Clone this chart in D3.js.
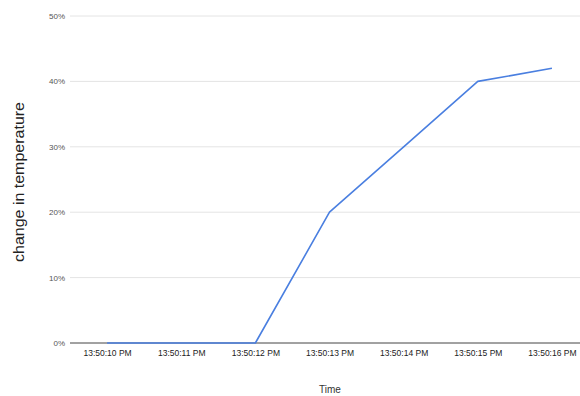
<!DOCTYPE html>
<html>
<head>
<meta charset="utf-8">
<script src="https://cdn.jsdelivr.net/npm/d3@7"></script>
<style>
  html, body { margin: 0; padding: 0; background: #fff; }
  svg { display: block; overflow: hidden; }
</style>
</head>
<body>
<svg id="chart" width="580" height="396"></svg>
<script>
// Time stamps of each reading and the measured change in temperature (fraction)
const times = ["13:50:10 PM", "13:50:11 PM", "13:50:12 PM", "13:50:13 PM", "13:50:14 PM", "13:50:15 PM", "13:50:16 PM"];
const changes = [0, 0, 0, 0.20, 0.30, 0.40, 0.42];
const yTicks = [0, 0.1, 0.2, 0.3, 0.4, 0.5];

const svg = d3.select("#chart");
const W = 580, H = 396;

const x = d3.scalePoint().domain(times).range([70, 589]).padding(0.5);
const y = d3.scaleLinear().domain([0, 0.5]).range([343, 16]);

const font = "'Liberation Sans', Arial, sans-serif";

// horizontal gridlines
svg.append("g")
  .selectAll("line")
  .data(yTicks.filter(d => d > 0))
  .join("line")
  .attr("x1", 70).attr("x2", W)
  .attr("y1", d => y(d)).attr("y2", d => y(d))
  .attr("stroke", "#e4e4e4").attr("stroke-width", 1);

// y axis labels
const yAxis = d3.axisLeft(y).tickValues(yTicks).tickFormat(d3.format(".0%")).tickSize(0).tickPadding(5);
svg.append("g")
  .attr("transform", "translate(70,0)")
  .call(yAxis)
  .call(g => g.select(".domain").remove())
  .call(g => g.selectAll("text")
    .attr("font-family", font).attr("font-size", 8).attr("fill", "#555"));

// baseline
svg.append("line")
  .attr("x1", 70).attr("x2", W)
  .attr("y1", y(0)).attr("y2", y(0))
  .attr("stroke", "#444").attr("stroke-width", 1);

// x axis labels
const xAxis = d3.axisBottom(x).tickSize(0).tickPadding(7);
svg.append("g")
  .attr("transform", `translate(0,${y(0)})`)
  .call(xAxis)
  .call(g => g.select(".domain").remove())
  .call(g => g.selectAll("text")
    .attr("font-family", font).attr("font-size", 8.5).attr("fill", "#222"));

// data line
const line = d3.line()
  .x((d, i) => x(times[i]))
  .y(d => y(d));
svg.append("path")
  .datum(changes)
  .attr("d", line)
  .attr("fill", "none")
  .attr("stroke", "#4a7fe0")
  .attr("stroke-width", 1.6)
  .attr("stroke-linejoin", "round");

// axis titles
svg.append("text")
  .attr("transform", "translate(24,182) rotate(-90)")
  .attr("text-anchor", "middle")
  .attr("font-family", font).attr("font-size", 14).attr("fill", "#222")
  .attr("textLength", 160).attr("lengthAdjust", "spacingAndGlyphs")
  .text("change in temperature");

svg.append("text")
  .attr("x", 330).attr("y", 393)
  .attr("text-anchor", "middle")
  .attr("font-family", font).attr("font-size", 10).attr("fill", "#333")
  .text("Time");
</script>
</body>
</html>
